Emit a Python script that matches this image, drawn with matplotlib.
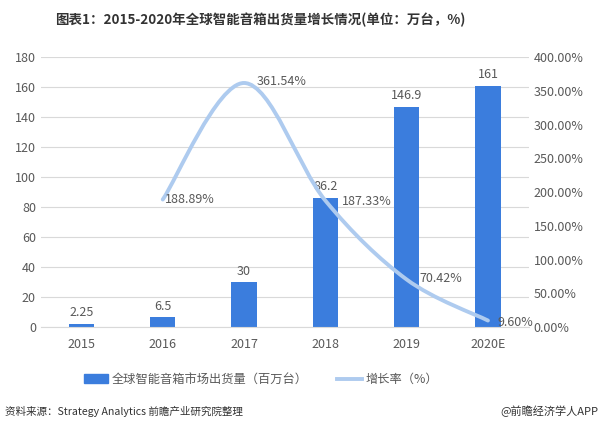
import numpy as np
import matplotlib.pyplot as plt
from matplotlib.path import Path
from matplotlib.patches import PathPatch
from matplotlib.lines import Line2D
from matplotlib.ticker import FuncFormatter

plt.rcParams['font.family'] = ['Noto Sans CJK SC', 'DejaVu Sans']

years = ['2015', '2016', '2017', '2018', '2019', '2020E']
shipments = [2.25, 6.5, 30, 86.2, 146.9, 161]
growth = [None, 188.89, 361.54, 187.33, 70.42, 9.60]

bar_color = '#3b7ddd'
line_color = '#aecbef'
text_color = '#595959'

fig = plt.figure(figsize=(6, 4.32), dpi=100)
ax = fig.add_axes([0.068, 0.243, 0.813, 0.625])
ax2 = ax.twinx()

x = np.arange(len(years))
ax.bar(x, shipments, width=0.31, color=bar_color, zorder=2)
for xi, v in zip(x, shipments):
    ax.text(xi, v + 3, f'{v:g}', ha='center', va='bottom', fontsize=9, color=text_color)

ax.set_xlim(-0.5, len(years) - 0.5)
ax.set_ylim(0, 180)
ax.set_yticks(range(0, 181, 20))
ax.set_xticks(x)
ax.set_xticklabels(years)
ax.grid(axis='y', color='#d9d9d9', lw=0.8, zorder=0)
ax.set_axisbelow(True)
for a in (ax, ax2):
    for s in a.spines.values():
        s.set_visible(False)
    a.tick_params(length=0, labelsize=9, colors=text_color)
ax.spines['bottom'].set_visible(True)
ax.spines['bottom'].set_color('#d9d9d9')
ax.tick_params(axis='x', pad=8)

ax2.set_ylim(0, 400)
ax2.set_yticks(range(0, 401, 50))
ax2.yaxis.set_major_formatter(FuncFormatter(lambda v, p: f'{v:.2f}%'))

# smoothed line (Catmull-Rom as cubic Bezier segments)
gx = [xi for xi, g in zip(x, growth) if g is not None]
gy = [g for g in growth if g is not None]
pts = np.column_stack([gx, gy]).astype(float)
verts = [tuple(pts[0])]
codes = [Path.MOVETO]
n = len(pts)
for i in range(n - 1):
    p0 = pts[i - 1] if i > 0 else pts[i]
    p1 = pts[i]
    p2 = pts[i + 1]
    p3 = pts[i + 2] if i + 2 < n else pts[i + 1]
    c1 = p1 + (p2 - p0) / 6
    c2 = p2 - (p3 - p1) / 6
    verts += [tuple(c1), tuple(c2), tuple(p2)]
    codes += [Path.CURVE4] * 3
ax2.add_patch(PathPatch(Path(verts, codes), fill=False, edgecolor=line_color,
                        lw=2.8, capstyle='round', zorder=3))

offsets = {1: (0.03, 0, 'left'), 2: (0.15, 2, 'left'), 3: (0.2, -2, 'left'),
           4: (0.16, 2, 'left'), 5: (0.12, -3, 'left')}
for i, g in enumerate(growth):
    if g is None:
        continue
    dx, dy, ha = offsets[i]
    ax2.text(i + dx, g + dy, f'{g:.2f}%', ha=ha, va='center', fontsize=9, color=text_color)

handles = [plt.Rectangle((0, 0), 1, 1, color=bar_color),
           Line2D([0], [0], color=line_color, lw=2.8)]
fig.legend(handles, ['全球智能音箱市场出货量（百万台）', '增长率（%）'],
           loc='center', bbox_to_anchor=(0.435, 0.122), ncol=2, frameon=False,
           fontsize=8.8, handlelength=2.0, handletextpad=0.3, columnspacing=2.4,
           labelcolor=text_color)

fig.text(0.433, 0.953, '图表1：2015-2020年全球智能音箱出货量增长情况(单位：万台，%)',
         ha='center', va='center', fontsize=9.7, fontweight='bold', color='#333333')
fig.text(0.008, 0.048, '资料来源：Strategy Analytics 前瞻产业研究院整理',
         ha='left', va='center', fontsize=7.6, color='#333333')
fig.text(0.998, 0.048, '@前瞻经济学人APP', ha='right', va='center',
         fontsize=8, color='#333333')

fig.savefig('out.png', dpi=100)
